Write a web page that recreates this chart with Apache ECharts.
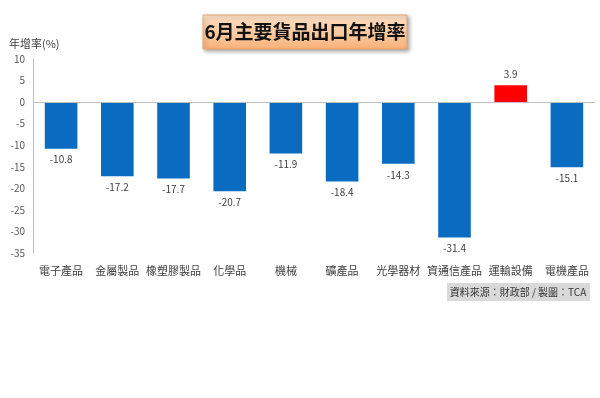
<!DOCTYPE html>
<html>
<head>
<meta charset="utf-8">
<script src="https://cdn.jsdelivr.net/npm/echarts@6/dist/echarts.min.js"></script>
<style>
	html, body { margin: 0; padding: 0; background: #fff; }
	#main { width: 600px; height: 398px; }
</style>
</head>
<body>
<div id="main"></div>
<script>
//分類與數值
var categories = ['電子產品', '金屬製品', '橡塑膠製品', '化學品', '機械', '礦產品', '光學器材', '資通信產品', '運輸設備', '電機產品'];
var growth = [-10.8, -17.2, -17.7, -20.7, -11.9, -18.4, -14.3, -31.4, 3.9, -15.1];
var yTicks = [10, -35, 5]; // max, min, interval

var font = '"Noto Sans CJK TC", "Noto Sans", sans-serif';
var myChart = echarts.init(document.getElementById('main'));

var option = {
	animation: false,
	textStyle: { fontFamily: font },
	graphic: [
		{
			type: 'rect',
			shape: { x: 203, y: 15, width: 204, height: 34 },
			style: {
				fill: new echarts.graphic.LinearGradient(0, 0, 0, 1, [
					{ offset: 0, color: '#fde2c8' },
					{ offset: 1, color: '#f9b27a' }
				]),
				stroke: '#e8a46a',
				lineWidth: 1,
				shadowColor: 'rgba(0,0,0,0.35)',
				shadowBlur: 4,
				shadowOffsetX: 2,
				shadowOffsetY: 2
			}
		},
		{
			type: 'text',
			x: 305, y: 32,
			style: {
				text: '6月主要貨品出口年增率',
				font: 'bold 19px ' + font,
				fill: '#111',
				align: 'center',
				verticalAlign: 'middle'
			}
		},
		{
			type: 'rect',
			shape: { x: 447, y: 283, width: 143, height: 18 },
			style: { fill: '#d9d9d9' }
		},
		{
			type: 'text',
			x: 518, y: 292,
			style: {
				text: '資料來源：財政部 / 製圖：TCA',
				font: '10px ' + font,
				fill: '#333',
				align: 'center',
				verticalAlign: 'middle'
			}
		}
	],
	grid: { left: 33, right: 5, top: 59, bottom: 145, containLabel: false },
	xAxis: {
		type: 'category',
		data: categories,
		position: 'bottom',
		axisLine: { show: false },
		axisTick: { show: false },
		axisLabel: { color: '#404040', fontSize: 11, margin: 12, interval: 0 }
	},
	yAxis: {
		type: 'value',
		name: '年增率(%)',
		nameLocation: 'end',
		nameGap: 10,
		nameTextStyle: { color: '#404040', fontSize: 11, align: 'left', padding: [0, 0, 0, -24] },
		max: yTicks[0],
		min: yTicks[1],
		interval: yTicks[2],
		axisLine: { show: true, lineStyle: { color: '#bfbfbf' } },
		axisTick: { show: false },
		splitLine: { show: false },
		axisLabel: { color: '#595959', fontSize: 10, margin: 8 }
	},
	series: [
		{
			type: 'bar',
			data: growth.map(function(v) {
				return {
					value: v,
					itemStyle: { color: v > 0 ? '#ff0000' : '#0a6cc0' },
					label: { position: v > 0 ? 'top' : 'bottom' }
				};
			}),
			barWidth: '58%',
			label: { show: true, color: '#404040', fontSize: 10, distance: 6 },
			markLine: {
				silent: true,
				symbol: 'none',
				label: { show: false },
				lineStyle: { color: '#bfbfbf', type: 'solid', width: 1 },
				data: [{ yAxis: 0 }]
			}
		}
	]
};
myChart.setOption(option);
</script>
</body>
</html>
